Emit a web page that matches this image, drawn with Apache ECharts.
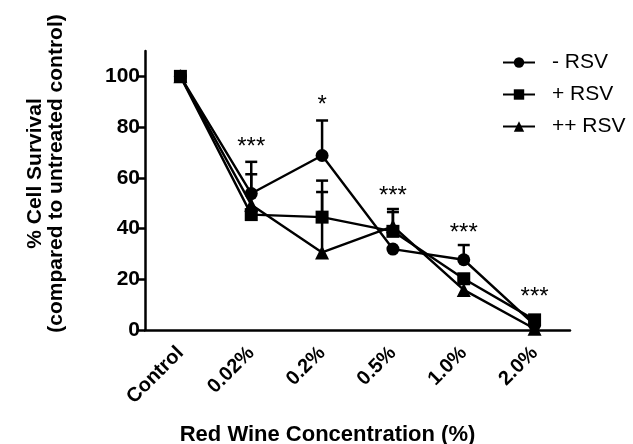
<!DOCTYPE html>
<html>
<head>
<meta charset="utf-8">
<script src="https://cdn.jsdelivr.net/npm/echarts@6/dist/echarts.min.js"></script>
<style>
  html, body { margin: 0; padding: 0; background: #fff; }
  #chart { width: 633px; height: 444px; }
</style>
</head>
<body>
<div id="chart"></div>
<script>
// data
const categories = ['Control', '0.02%', '0.2%', '0.5%', '1.0%', '2.0%']
const minusRsv = [100, 53.8, 68.8, 31.9, 27.7, 2]
const plusRsv = [100, 45.5, 44.5, 38.9, 20.2, 4]
const plusPlusRsv = [100, 49.4, 30.6, 40.9, 15.8, 0.5]
// upper ends of the error bars (null = none visible)
const minusRsvTop = [null, 66.3, 82.6, null, 33.5, null]
const plusRsvTop = [null, 61.4, 58.9, 47.7, null, 5]
const plusPlusRsvTop = [null, null, 54.4, 46.5, null, null]
const stars = ['', '***', '*', '***', '***', '***']
const starY = [null, 72, 88.5, 52.6, 38, 13]
const yTicks = [0, 20, 40, 60, 80, 100]

const chart = echarts.init(document.getElementById('chart'))

const FONT = 'Liberation Sans, Arial, sans-serif'

function errData(vals, tops) {
    const out = []
    vals.forEach((v, i) => {
        if (tops[i] != null) out.push([i, v, tops[i]])
    })
    return out
}

function errSeries(vals, tops) {
    return {
        type: 'custom',
        z: 1,
        silent: true,
        data: errData(vals, tops),
        renderItem: (params, api) => {
            const base = api.coord([api.value(0), api.value(1)])
            const top = api.coord([api.value(0), api.value(2)])
            const half = 6
            const style = { stroke: '#000', lineWidth: 2.5 }
            return {
                type: 'group',
                children: [
                    { type: 'line', shape: { x1: base[0], y1: base[1], x2: top[0], y2: top[1] }, style },
                    { type: 'line', shape: { x1: top[0] - half, y1: top[1], x2: top[0] + half, y2: top[1] }, style }
                ]
            }
        }
    }
}

function lineSeries(name, vals, symbol, size) {
    return {
        name,
        type: 'line',
        data: vals,
        symbol,
        symbolSize: size,
        z: 3,
        lineStyle: { color: '#000', width: 2.4 },
        itemStyle: { color: '#000' }
    }
}

const starData = []
stars.forEach((s, i) => { if (s) starData.push([i, starY[i], s]) })

chart.setOption({
    animation: false,
    backgroundColor: '#fff',
    grid: { left: 145, right: 63, top: 51, bottom: 114, outerBoundsMode: 'none', containLabel: false },
    legend: {
        orient: 'vertical',
        left: 497,
        top: 47,
        itemWidth: 32,
        itemHeight: 13,
        itemGap: 11,
        textStyle: { fontFamily: FONT, fontSize: 21, color: '#000', padding: [0, 0, 0, 12] },
        data: ['- RSV', '+ RSV', '++ RSV']
    },
    xAxis: {
        type: 'category',
        data: categories,
        boundaryGap: true,
        axisLine: { lineStyle: { color: '#000', width: 2.5 } },
        axisTick: { alignWithLabel: true, length: 7, lineStyle: { color: '#000', width: 2.5 } },
        axisLabel: {
            rotate: 45, margin: 20, color: '#000',
            fontFamily: FONT, fontSize: 20, fontWeight: 'bold'
        },
        name: 'Red Wine Concentration (%)',
        nameLocation: 'middle',
        nameGap: 94,
        nameTextStyle: { fontFamily: FONT, fontSize: 22, fontWeight: 'bold', color: '#000', padding: [0, 60, 0, 0] }
    },
    yAxis: {
        type: 'value',
        min: 0,
        max: 110,
        interval: 20,
        splitLine: { show: false },
        axisLine: { show: true, lineStyle: { color: '#000', width: 2.5 } },
        axisTick: { show: true, length: 7, customValues: yTicks, lineStyle: { color: '#000', width: 2.5 } },
        axisLabel: {
            customValues: yTicks, margin: 5, color: '#000',
            fontFamily: FONT, fontSize: 21, fontWeight: 'bold'
        },
        name: '% Cell Survival\n(compared to untreated control)',
        nameLocation: 'middle',
        nameGap: 78,
        nameRotate: 90,
        nameTextStyle: { fontFamily: FONT, fontSize: 21, fontWeight: 'bold', color: '#000', lineHeight: 21, padding: [0, 0, 0, 34] }
    },
    series: [
        lineSeries('- RSV', minusRsv, 'circle', 13),
        lineSeries('+ RSV', plusRsv, 'rect', 13),
        lineSeries('++ RSV', plusPlusRsv, 'triangle', 14),
        errSeries(minusRsv, minusRsvTop),
        errSeries(plusRsv, plusRsvTop),
        errSeries(plusPlusRsv, plusPlusRsvTop),
        {
            type: 'custom',
            silent: true,
            z: 4,
            data: starData,
            renderItem: (params, api) => {
                const p = api.coord([api.value(0), api.value(1)])
                return {
                    type: 'text',
                    x: p[0], y: p[1],
                    style: {
                        text: starData[params.dataIndex][2],
                        fill: '#000',
                        font: '24px ' + FONT,
                        align: 'center',
                        verticalAlign: 'middle'
                    }
                }
            }
        }
    ]
})
</script>
</body>
</html>
